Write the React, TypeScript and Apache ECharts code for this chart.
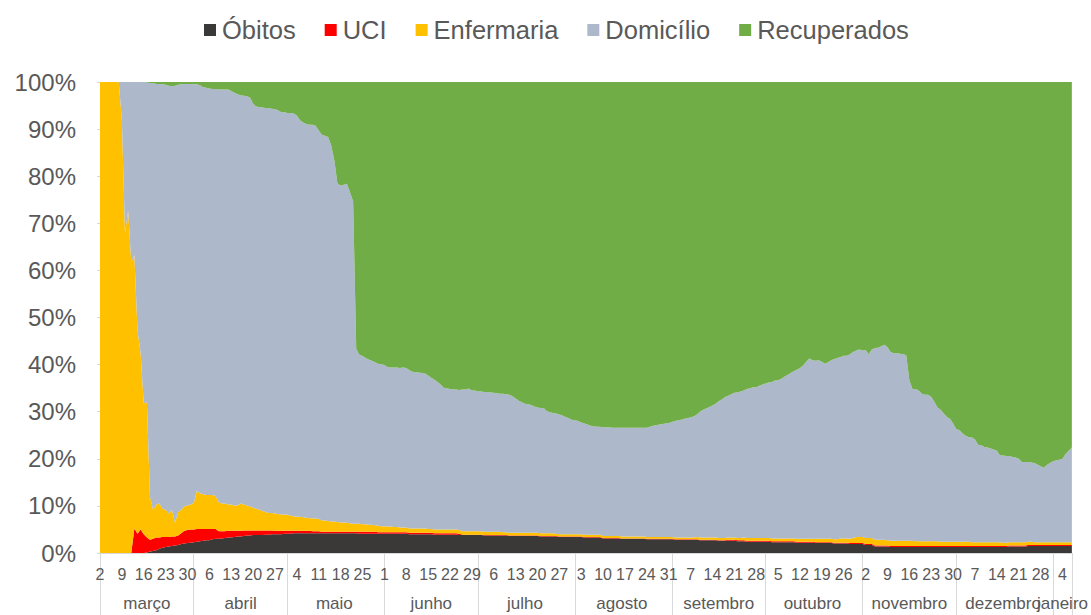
import React, { useEffect, useRef } from 'react';
import * as echarts from 'echarts';

// Months shown on the lower axis level (Mar 2 – Jan 7)
const monthNames = ['março', 'abril', 'maio', 'junho', 'julho', 'agosto', 'setembro', 'outubro', 'novembro', 'dezembro', 'janeiro'];
const monthFirstDay = [2, 1, 1, 1, 1, 1, 1, 1, 1, 1, 1];
const monthLastDay = [31, 30, 31, 30, 31, 31, 30, 31, 30, 31, 7];

const seriesNames = ['Óbitos', 'UCI', 'Enfermaria', 'Domicílio', 'Recuperados'];
const seriesColors = ['#3b3838', '#ff0000', '#ffc000', '#adb9ca', '#70ad47'];

// Daily shares (%), index 0 = 2 março
const obitos = [
  0, 0, 0, 0, 0, 0, 0, 0, 0, 0,
  0, 0, 0, 0, 0, 0.1, 0.3, 0.4, 0.6, 0.9,
  1.1, 1.3, 1.4, 1.5, 1.6, 1.7, 1.9, 2.0, 2.1, 2.2,
  2.3, 2.4, 2.5, 2.6, 2.7, 2.7, 2.9, 3.0, 3.0, 3.1,
  3.2, 3.3, 3.3, 3.4, 3.5, 3.5, 3.6, 3.7, 3.7, 3.8,
  3.8, 3.8, 3.8, 3.9, 3.9, 4.0, 4.0, 4.0, 4.0, 4.1,
  4.1, 4.1, 4.2, 4.2, 4.2, 4.2, 4.2, 4.2, 4.2, 4.2,
  4.2, 4.2, 4.2, 4.2, 4.2, 4.2, 4.2, 4.2, 4.2, 4.2,
  4.2, 4.2, 4.2, 4.1, 4.1, 4.1, 4.1, 4.1, 4.1, 4.1,
  4.1, 4.1, 4.1, 4.1, 4.1, 4.1, 4.1, 4.1, 4.1, 4.0,
  4.0, 4.0, 4.0, 4.0, 4.0, 4.0, 4.0, 3.9, 3.9, 3.9,
  3.9, 3.9, 3.9, 3.9, 3.9, 3.8, 3.8, 3.8, 3.8, 3.8,
  3.8, 3.8, 3.8, 3.7, 3.7, 3.7, 3.7, 3.7, 3.7, 3.7,
  3.7, 3.6, 3.6, 3.6, 3.6, 3.6, 3.6, 3.6, 3.6, 3.6,
  3.6, 3.5, 3.5, 3.5, 3.5, 3.5, 3.5, 3.4, 3.4, 3.4,
  3.4, 3.4, 3.4, 3.4, 3.4, 3.3, 3.3, 3.3, 3.3, 3.3,
  3.3, 3.1, 3.1, 3.1, 3.1, 3.1, 3.1, 3.0, 3.0, 3.0,
  3.0, 3.0, 3.0, 3.0, 3.0, 2.9, 2.9, 2.9, 2.9, 2.9,
  2.9, 2.9, 2.9, 2.9, 2.8, 2.8, 2.8, 2.8, 2.8, 2.8,
  2.8, 2.8, 2.7, 2.7, 2.7, 2.7, 2.7, 2.7, 2.6, 2.6,
  2.6, 2.6, 2.6, 2.6, 2.5, 2.5, 2.5, 2.4, 2.4, 2.4,
  2.4, 2.4, 2.4, 2.4, 2.4, 2.3, 2.3, 2.3, 2.3, 2.3,
  2.3, 2.3, 2.3, 2.2, 2.2, 2.2, 2.2, 2.2, 2.2, 2.1,
  2.1, 2.1, 2.1, 2.1, 2.1, 2.0, 2.0, 2.0, 2.0, 2.0,
  1.9, 1.9, 1.9, 1.9, 1.9, 1.7, 1.7, 1.7, 1.4, 1.4,
  1.4, 1.4, 1.4, 1.3, 1.3, 1.3, 1.3, 1.3, 1.3, 1.3,
  1.3, 1.3, 1.3, 1.3, 1.3, 1.3, 1.3, 1.3, 1.3, 1.3,
  1.3, 1.3, 1.3, 1.3, 1.3, 1.3, 1.3, 1.3, 1.3, 1.3,
  1.3, 1.3, 1.3, 1.3, 1.3, 1.3, 1.3, 1.3, 1.3, 1.3,
  1.3, 1.4, 1.4, 1.4, 1.4, 1.4, 1.4, 1.5, 1.5, 1.5,
  1.5, 1.5, 1.5, 1.5, 1.5, 1.5, 1.5, 1.5, 1.5, 1.5,
  1.5, 1.5,
];

const uci = [
  0, 0, 0, 0, 0, 0, 0, 0, 0, 0,
  0, 5.2, 4.1, 5.0, 4.0, 3.2, 2.5, 2.6, 2.7, 2.4,
  2.3, 2.1, 2.0, 2.0, 1.9, 2.0, 2.3, 2.7, 2.8, 2.8,
  2.7, 2.7, 2.6, 2.5, 2.4, 2.4, 2.2, 2.1, 1.6, 1.5,
  1.4, 1.4, 1.4, 1.3, 1.2, 1.2, 1.2, 1.1, 1.1, 1.0,
  1.0, 1.0, 1.0, 0.9, 0.9, 0.8, 0.7, 0.7, 0.7, 0.6,
  0.6, 0.6, 0.5, 0.5, 0.5, 0.5, 0.5, 0.5, 0.4, 0.4,
  0.4, 0.3, 0.3, 0.3, 0.3, 0.3, 0.3, 0.3, 0.3, 0.3,
  0.3, 0.3, 0.3, 0.4, 0.4, 0.4, 0.4, 0.4, 0.4, 0.3,
  0.3, 0.3, 0.3, 0.3, 0.3, 0.3, 0.3, 0.3, 0.3, 0.3,
  0.3, 0.3, 0.3, 0.3, 0.3, 0.3, 0.3, 0.3, 0.3, 0.3,
  0.3, 0.3, 0.3, 0.3, 0.3, 0.3, 0.1, 0.1, 0.1, 0.1,
  0.1, 0.1, 0.1, 0.1, 0.1, 0.1, 0.1, 0.1, 0.1, 0.1,
  0.1, 0.1, 0.1, 0.1, 0.1, 0.1, 0.1, 0.1, 0.1, 0.1,
  0.1, 0.1, 0.1, 0.1, 0.1, 0.1, 0.1, 0.1, 0.1, 0.1,
  0.1, 0.1, 0.1, 0.1, 0.1, 0.1, 0.1, 0.1, 0.1, 0.1,
  0.1, 0.1, 0.1, 0.1, 0.1, 0.1, 0.1, 0.1, 0.1, 0.1,
  0.1, 0.1, 0.1, 0.1, 0.1, 0.1, 0.1, 0.1, 0.1, 0.1,
  0.1, 0.1, 0.1, 0.1, 0.1, 0.1, 0.1, 0.1, 0.1, 0.1,
  0.1, 0.1, 0.1, 0.1, 0.1, 0.1, 0.1, 0.1, 0.1, 0.1,
  0.1, 0.2, 0.2, 0.2, 0.2, 0.2, 0.2, 0.2, 0.2, 0.2,
  0.2, 0.2, 0.2, 0.2, 0.2, 0.2, 0.2, 0.2, 0.2, 0.2,
  0.2, 0.2, 0.2, 0.2, 0.2, 0.2, 0.2, 0.2, 0.2, 0.2,
  0.2, 0.2, 0.2, 0.2, 0.2, 0.2, 0.2, 0.2, 0.2, 0.2,
  0.2, 0.2, 0.2, 0.2, 0.2, 0.2, 0.2, 0.2, 0.2, 0.2,
  0.2, 0.2, 0.2, 0.2, 0.2, 0.2, 0.2, 0.2, 0.2, 0.2,
  0.2, 0.2, 0.2, 0.2, 0.2, 0.2, 0.2, 0.2, 0.2, 0.2,
  0.2, 0.2, 0.2, 0.2, 0.2, 0.2, 0.2, 0.2, 0.2, 0.2,
  0.2, 0.2, 0.2, 0.2, 0.2, 0.2, 0.2, 0.2, 0.2, 0.2,
  0.2, 0.2, 0.2, 0.2, 0.2, 0.2, 0.2, 0.2, 0.2, 0.2,
  0.2, 0.2, 0.2, 0.2, 0.2, 0.2, 0.2, 0.2, 0.2, 0.2,
  0.2, 0.2,
];

const enfermaria = [
  100, 100, 100, 100, 100, 100, 100, 92, 68, 72.7,
  61.8, 58.0, 43.2, 37.4, 27.8, 28.7, 9.2, 6.1, 7.0, 7.2,
  6.0, 5.8, 5.0, 5.7, 2.9, 5.0, 5.0, 5.2, 5.2, 5.3,
  5.6, 8.1, 7.6, 7.4, 7.2, 7.2, 7.2, 7.0, 6.2, 5.9,
  5.9, 5.6, 5.6, 5.4, 5.4, 5.8, 5.5, 5.3, 5.1, 4.8,
  4.6, 4.4, 4.1, 3.9, 3.7, 3.7, 3.7, 3.6, 3.5, 3.5,
  3.4, 3.2, 3.1, 3.0, 3.0, 2.9, 2.8, 2.7, 2.8, 2.7,
  2.6, 2.4, 2.4, 2.3, 2.2, 2.2, 2.1, 2.0, 2.0, 1.9,
  1.8, 1.7, 1.7, 1.7, 1.6, 1.6, 1.5, 1.5, 1.4, 1.4,
  1.3, 1.3, 1.2, 1.2, 1.1, 1.1, 1.0, 1.0, 1.0, 0.9,
  0.9, 0.9, 0.9, 0.9, 0.9, 0.8, 0.8, 0.8, 0.8, 0.8,
  0.8, 0.8, 0.8, 0.8, 0.8, 0.8, 0.7, 0.7, 0.7, 0.7,
  0.7, 0.7, 0.7, 0.7, 0.7, 0.7, 0.7, 0.7, 0.7, 0.6,
  0.6, 0.6, 0.6, 0.6, 0.6, 0.6, 0.6, 0.6, 0.6, 0.6,
  0.6, 0.6, 0.6, 0.6, 0.6, 0.6, 0.5, 0.5, 0.5, 0.5,
  0.5, 0.5, 0.5, 0.5, 0.5, 0.5, 0.5, 0.5, 0.5, 0.5,
  0.5, 0.4, 0.4, 0.4, 0.4, 0.4, 0.4, 0.4, 0.4, 0.4,
  0.4, 0.4, 0.4, 0.4, 0.4, 0.4, 0.4, 0.4, 0.4, 0.4,
  0.4, 0.4, 0.4, 0.4, 0.4, 0.4, 0.4, 0.4, 0.4, 0.4,
  0.4, 0.5, 0.5, 0.5, 0.5, 0.5, 0.5, 0.5, 0.5, 0.5,
  0.5, 0.5, 0.5, 0.5, 0.5, 0.5, 0.6, 0.6, 0.6, 0.6,
  0.6, 0.6, 0.6, 0.6, 0.6, 0.6, 0.6, 0.6, 0.6, 0.6,
  0.6, 0.6, 0.6, 0.6, 0.6, 0.6, 0.6, 0.6, 0.6, 0.7,
  0.7, 0.7, 0.7, 0.7, 0.7, 0.7, 0.7, 0.9, 0.9, 0.9,
  0.9, 1.1, 1.3, 1.3, 1.3, 1.3, 1.3, 1.3, 1.2, 1.2,
  1.2, 1.2, 1.1, 1.1, 1.1, 1.1, 1.1, 1.1, 1.1, 1.1,
  1.1, 1.0, 1.0, 1.0, 1.0, 1.0, 1.0, 1.0, 1.0, 0.9,
  0.9, 0.9, 0.9, 0.9, 0.9, 0.9, 0.9, 0.9, 0.9, 0.8,
  0.8, 0.8, 0.8, 0.8, 0.8, 0.8, 0.8, 0.8, 0.8, 0.7,
  0.7, 0.7, 0.7, 0.7, 0.7, 0.7, 0.7, 0.7, 0.7, 0.6,
  0.6, 0.6, 0.6, 0.6, 0.6, 0.6, 0.6, 0.6, 0.6, 0.6,
  0.6, 0.6,
];

const domicilio = [
  0, 0, 0, 0, 0, 0, 0, 8, 32, 27.3,
  38.2, 36.8, 52.7, 57.6, 68.2, 67.9, 87.8, 90.7, 89.3, 89.1,
  90.1, 90.2, 90.8, 89.9, 92.8, 90.7, 90.3, 89.7, 89.5, 89.3,
  88.9, 86.3, 86.6, 86.4, 86.5, 86.3, 86.2, 86.4, 87.6, 87.9,
  87.9, 88.1, 87.8, 87.6, 87.3, 86.7, 86.8, 86.9, 86.8, 85.8,
  85.4, 85.5, 85.7, 85.8, 86.0, 85.8, 85.8, 85.7, 85.4, 85.4,
  85.3, 85.5, 85.5, 85.2, 84.2, 83.8, 83.6, 83.5, 83.5, 83.4,
  82.5, 81.9, 81.7, 81.5, 79.8, 76.6, 71.8, 71.5, 71.7, 72.0,
  70.3, 68.5, 37.1, 35.9, 35.7, 35.3, 35.1, 34.8, 34.6, 34.4,
  34.4, 34.2, 33.9, 33.8, 33.9, 33.9, 33.9, 34.0, 33.9, 33.6,
  33.3, 33.2, 33.1, 33.0, 32.9, 32.6, 32.1, 31.8, 31.3, 30.8,
  30.1, 30.0, 29.8, 29.7, 29.7, 29.7, 30.1, 30.1, 30.3, 29.9,
  29.9, 29.7, 29.7, 29.7, 29.7, 29.6, 29.5, 29.4, 29.3, 29.4,
  29.3, 29.3, 29.0, 28.5, 28.0, 27.7, 27.4, 27.3, 27.1, 26.8,
  26.6, 26.6, 26.6, 25.9, 25.7, 25.5, 25.5, 25.4, 25.2, 24.9,
  24.6, 24.3, 24.2, 24.0, 23.7, 23.6, 23.4, 23.1, 23.0, 22.9,
  22.9, 23.1, 23.1, 23.1, 23.0, 23.0, 23.0, 23.1, 23.1, 23.1,
  23.1, 23.1, 23.1, 23.1, 23.1, 23.2, 23.4, 23.6, 23.7, 23.9,
  24.0, 24.1, 24.2, 24.4, 24.7, 24.9, 25.0, 25.2, 25.3, 25.5,
  25.7, 26.0, 26.7, 27.1, 27.4, 27.7, 28.0, 28.4, 29.0, 29.4,
  29.9, 30.1, 30.4, 30.7, 30.9, 31.1, 31.2, 31.6, 31.8, 32.0,
  32.0, 32.3, 32.6, 32.8, 33.0, 33.2, 33.5, 33.6, 33.9, 34.3,
  34.7, 35.1, 35.5, 35.9, 36.3, 36.8, 37.6, 38.3, 37.9, 37.8,
  37.9, 37.6, 37.2, 37.5, 37.9, 38.3, 38.5, 38.5, 38.8, 38.8,
  39.2, 39.5, 39.6, 39.8, 39.6, 39.9, 39.0, 40.0, 40.7, 40.8,
  41.1, 41.4, 41.0, 40.1, 39.8, 39.8, 39.7, 39.6, 39.4, 34.1,
  32.2, 32.3, 32.0, 31.3, 31.1, 31.1, 30.6, 29.6, 28.4, 28.0,
  27.2, 26.5, 26.1, 25.1, 23.9, 23.7, 23.0, 22.5, 22.2, 22.2,
  21.8, 20.7, 20.6, 20.2, 20.1, 19.9, 19.7, 19.4, 18.4, 18.5,
  18.4, 18.3, 18.1, 18.0, 17.7, 17.0, 17.0, 16.9, 16.8, 16.8,
  16.5, 16.1, 15.8, 16.4, 16.8, 17.2, 17.4, 17.5, 17.7, 18.7,
  19.4, 20.1,
];

const recuperados = [
  0, 0, 0, 0, 0, 0, 0, 0, 0, 0,
  0, 0, 0, 0, 0, 0.1, 0.2, 0.2, 0.4, 0.4,
  0.5, 0.6, 0.8, 0.9, 0.8, 0.6, 0.5, 0.4, 0.4, 0.4,
  0.5, 0.5, 0.7, 1.1, 1.2, 1.4, 1.5, 1.5, 1.6, 1.6,
  1.6, 1.6, 1.9, 2.3, 2.6, 2.8, 2.9, 3.0, 3.3, 4.6,
  5.2, 5.3, 5.4, 5.5, 5.5, 5.7, 5.8, 6.0, 6.4, 6.4,
  6.6, 6.6, 6.7, 7.1, 8.1, 8.6, 8.9, 9.1, 9.1, 9.3,
  10.3, 11.2, 11.4, 11.7, 13.5, 16.7, 21.6, 22.0, 21.8, 21.6,
  23.4, 25.3, 56.7, 57.9, 58.2, 58.6, 58.9, 59.2, 59.5, 59.8,
  59.9, 60.1, 60.5, 60.6, 60.6, 60.6, 60.7, 60.6, 60.7, 61.2,
  61.5, 61.6, 61.7, 61.8, 61.9, 62.3, 62.8, 63.2, 63.7, 64.2,
  64.9, 65.0, 65.2, 65.3, 65.3, 65.4, 65.3, 65.3, 65.1, 65.5,
  65.5, 65.7, 65.7, 65.8, 65.8, 65.9, 66.0, 66.1, 66.2, 66.2,
  66.3, 66.4, 66.7, 67.2, 67.7, 68.0, 68.3, 68.4, 68.6, 68.9,
  69.1, 69.2, 69.2, 69.9, 70.1, 70.3, 70.4, 70.6, 70.8, 71.1,
  71.4, 71.7, 71.8, 72.0, 72.3, 72.5, 72.7, 73.0, 73.1, 73.2,
  73.2, 73.3, 73.3, 73.3, 73.4, 73.4, 73.4, 73.4, 73.4, 73.4,
  73.4, 73.4, 73.4, 73.4, 73.4, 73.4, 73.2, 73.0, 72.9, 72.7,
  72.6, 72.5, 72.4, 72.2, 72.0, 71.8, 71.7, 71.5, 71.4, 71.2,
  71.0, 70.6, 70.0, 69.6, 69.3, 69.0, 68.7, 68.3, 67.8, 67.4,
  66.9, 66.6, 66.3, 66.0, 65.9, 65.7, 65.5, 65.2, 65.0, 64.8,
  64.8, 64.5, 64.2, 64.0, 63.8, 63.7, 63.4, 63.3, 63.0, 62.6,
  62.2, 61.8, 61.4, 61.1, 60.7, 60.2, 59.4, 58.7, 59.1, 59.2,
  59.1, 59.4, 59.8, 59.5, 59.1, 58.8, 58.6, 58.4, 58.1, 58.1,
  57.8, 57.3, 57.0, 56.8, 57.0, 56.9, 57.8, 56.8, 56.5, 56.4,
  56.1, 55.8, 56.3, 57.3, 57.6, 57.6, 57.7, 57.8, 58.0, 63.3,
  65.2, 65.2, 65.5, 66.2, 66.4, 66.4, 66.9, 67.9, 69.1, 69.6,
  70.4, 71.1, 71.5, 72.5, 73.7, 73.9, 74.6, 75.1, 75.4, 75.5,
  75.9, 77.0, 77.1, 77.5, 77.6, 77.8, 78.0, 78.3, 79.3, 79.3,
  79.4, 79.4, 79.6, 79.7, 80.0, 80.7, 80.7, 80.7, 80.8, 80.9,
  81.2, 81.6, 81.9, 81.3, 80.9, 80.5, 80.3, 80.2, 80.0, 79.0,
  78.3, 77.6,
];

const seriesValues = [obitos, uci, enfermaria, domicilio, recuperados];

// Category table: one entry per day, "day month"
const categories: string[] = [];
const monthMidIndex: number[] = [];
monthNames.forEach((m, k) => {
  const start = categories.length;
  for (let d = monthFirstDay[k]; d <= monthLastDay[k]; d++) categories.push(`${d} ${m}`);
  monthMidIndex.push(Math.round((start + categories.length - 1) / 2));
});
const lastIndex = categories.length - 1;
const lastMonthMid = monthMidIndex[monthMidIndex.length - 1];

const FONT = '"Liberation Sans", Arial, sans-serif';
const TEXT = '#595959';
const AXIS = '#d9d9d9';

// Month-name axis (labels only); split in two so the short last month keeps its label
const monthAxis = (show: (i: number) => boolean) => ({
  type: 'category',
  data: categories,
  boundaryGap: false,
  position: 'bottom',
  axisLine: { show: false },
  axisTick: { show: false },
  axisLabel: {
    interval: (i: number) => show(i),
    margin: 42,
    fontSize: 17,
    lineHeight: 17,
    color: TEXT,
    fontFamily: FONT,
    hideOverlap: false,
    formatter: (v: string) => v.split(' ')[1],
  },
  splitLine: { show: false },
});

export default function App() {
  const ref = useRef<HTMLDivElement>(null);
  useEffect(() => {
    if (!ref.current) return;
    const chart = echarts.init(ref.current, undefined, { renderer: 'svg' });
    chart.setOption({
      animation: false,
      textStyle: { fontFamily: FONT },
      legend: {
        top: 17,
        left: 204,
        padding: 0,
        icon: 'rect',
        itemWidth: 12,
        itemHeight: 12,
        itemGap: 29,
        textStyle: { fontSize: 25.5, color: TEXT, fontFamily: FONT, padding: [0, 0, 0, 1] },
        data: seriesNames,
      },
      grid: { left: 100, right: 18, top: 82, bottom: 62, containLabel: false },
      xAxis: [
        {
          type: 'category',
          data: categories,
          boundaryGap: false,
          axisLine: { show: true, lineStyle: { color: AXIS, width: 1 } },
          axisTick: {
            show: true,
            length: 64,
            lineStyle: { color: AXIS, width: 1 },
            interval: (i: number, v: string) => i === 0 || i === lastIndex || v.startsWith('1 '),
          },
          axisLabel: {
            interval: 6,
            margin: 13,
            fontSize: 16,
            lineHeight: 16,
            color: TEXT,
            fontFamily: FONT,
            hideOverlap: false,
            formatter: (v: string) => v.split(' ')[0],
          },
          splitLine: { show: false },
        },
        monthAxis((i) => i !== lastMonthMid && monthMidIndex.includes(i)),
        monthAxis((i) => i === lastMonthMid),
      ],
      yAxis: {
        type: 'value',
        min: 0,
        max: 100,
        interval: 10,
        axisLine: { show: false },
        axisTick: { show: true, length: 3, lineStyle: { color: AXIS } },
        splitLine: { show: false },
        axisLabel: {
          formatter: '{value}%',
          fontSize: 24,
          color: TEXT,
          margin: 24,
          fontFamily: FONT,
        },
      },
      series: seriesNames.map((name, k) => ({
        name,
        type: 'line',
        stack: 'total',
        data: seriesValues[k],
        color: seriesColors[k],
        itemStyle: { color: seriesColors[k] },
        showSymbol: false,
        symbol: 'none',
        lineStyle: { width: 0 },
        areaStyle: { color: seriesColors[k], opacity: 1 },
        emphasis: { disabled: true },
      })),
    });
    return () => chart.dispose();
  }, []);
  return (
    <div
      ref={ref}
      style={{ position: 'fixed', left: 0, top: 0, width: 1091, height: 615, background: '#ffffff' }}
    />
  );
}
